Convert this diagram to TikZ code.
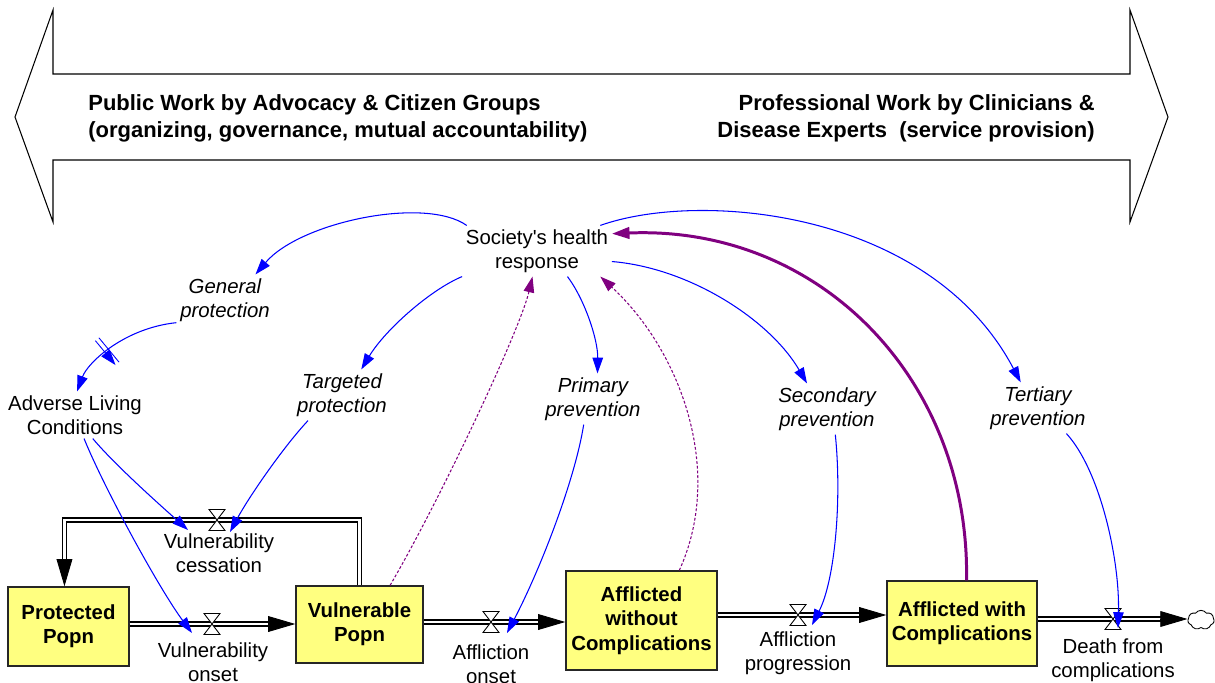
\documentclass[tikz,border=0pt]{standalone}
\usepackage{fontspec}
\setmainfont{Liberation Sans}
\usetikzlibrary{arrows.meta,calc,shapes.symbols,decorations.markings}
\definecolor{stockfill}{RGB}{255,255,128}
\definecolor{fbpurple}{RGB}{128,0,128}

\tikzset{
	valve/.pic={\draw[fill=white, line width=0.5pt] (-8,-10.5) -- (8,-10.5) -- (-8,10.5) -- (8,10.5) -- cycle;},
	delaymark/.style={postaction={decorate, decoration={markings,
		mark=at position #1 with {\draw[blue, line width=0.5pt] (-1.3pt,-9pt) -- (-1.3pt,9pt) (1.3pt,-9pt) -- (1.3pt,9pt);}}}}
}

\begin{document}
\begin{tikzpicture}[x=0.02cm, y=-0.02cm,
	every node/.style={font=\fontsize{11.6}{13.9}\selectfont, align=center, inner sep=2pt},
	stock/.style={draw=black!85, line width=0.8pt, fill=stockfill,
		font=\fontsize{11.6}{13.9}\selectfont\bfseries},
	aux/.style={font=\fontsize{11.6}{13.9}\selectfont\itshape},
	title/.style={font=\fontsize{12.5}{15.3}\selectfont\bfseries, inner sep=0pt},
	pipe/.style={draw=black, line width=0.75pt, double=white, double distance=1.7pt,
		shorten >=15pt},
	pipehead/.style={draw=black, line width=0.5pt, -{Triangle[length=15.5pt,width=9pt]}},
	link/.style={draw=blue, line width=0.6pt, -{Triangle[length=9pt,width=6pt]}},
	fb/.style={draw=fbpurple, line width=0.6pt, dash pattern=on 1.6pt off 1.1pt,
		-{Triangle[length=9pt,width=6pt]}},
	fbthick/.style={draw=fbpurple, line width=1.7pt, -{Triangle[length=10pt,width=6.5pt]}}]

	\useasboundingbox (0,0) rectangle (1215,683);

	% the two kinds of work
	\draw[line width=0.6pt] (15,117) -- (53,10) -- (53,74) -- (1130,74) -- (1130,10) -- (1168,117)
		-- (1130,222) -- (1130,160) -- (53,160) -- (53,222) -- cycle;
	\node [title, anchor=west, align=left] (public) at (88,118.5)
		{Public Work by Advocacy \& Citizen Groups\\(organizing, governance, mutual accountability)};
	\node [title, anchor=east, align=right] (profwork) at (1095,118.5)
		{Professional Work by Clinicians \&\\Disease Experts\ \ (service provision)};

	% stocks
	\node [stock, minimum width=2.42cm, minimum height=1.58cm] (prot) at (68.5,626.5) {Protected\\Popn};
	\node [stock, minimum width=2.54cm, minimum height=1.54cm] (vul) at (359.5,624.5) {Vulnerable\\Popn};
	\node [stock, minimum width=3.02cm, minimum height=1.98cm] (afw) at (641.5,620.5) {Afflicted\\without\\Complications};
	\node [stock, minimum width=3.0cm, minimum height=1.7cm] (afc) at (962,623.5) {Afflicted with\\Complications};
	\node [cloud, draw, cloud puffs=7, cloud puff arc=110, minimum width=15pt, minimum height=11pt,
		inner sep=0pt, line width=0.5pt] (sink) at (1201,620) {};

	% valves
	\coordinate (vcs) at (217,520);
	\coordinate (von) at (212,624);
	\coordinate (aon) at (491,622);
	\coordinate (apr) at (798,615);
	\coordinate (dth) at (1113,619);

	% flows
	\draw[pipe] (vul.north) |- (vcs) -| ([xshift=-2.3pt]prot.north);
	\draw[pipe] (prot.east |- von) -- (vul.west |- von);
	\draw[pipe] (vul.east |- aon) -- (afw.west |- aon);
	\draw[pipe] (afw.east |- apr) -- (afc.west |- apr);
	\draw[pipe] (afc.east |- dth) -- (sink.west |- dth);
	\draw[pipehead] ([shift={(0,15.5pt)}]prot.north) ++(-2.3pt,0) -- ([xshift=-2.3pt]prot.north);
	\draw[pipehead] ([xshift=-15.5pt]vul.west |- von) -- (vul.west |- von);
	\draw[pipehead] ([xshift=-15.5pt]afw.west |- aon) -- (afw.west |- aon);
	\draw[pipehead] ([xshift=-15.5pt]afc.west |- apr) -- (afc.west |- apr);
	\draw[pipehead] ([xshift=-15.5pt]sink.west |- dth) -- (sink.west |- dth);
	\foreach \v in {vcs,von,aon,apr,dth}
		\pic at (\v) {valve};

	\node (vcslbl) at (219,553) {Vulnerability\\cessation};
	\node (vonlbl) at (213,662) {Vulnerability\\onset};
	\node (aonlbl) at (491,664) {Affliction\\onset};
	\node (aprlbl) at (798,653) {Affliction\\progression};
	\node (dthlbl) at (1113,660) {Death from\\complications};

	% auxiliaries
	\node (soc) at (537,251) {Society\textquotesingle s health\\response};
	\node [aux] (gen) at (225,300) {General\\protection};
	\node [aux] (tgt) at (342,395) {Targeted\\protection};
	\node [aux] (pri) at (593,399) {Primary\\prevention};
	\node [aux] (sec) at (827,409) {Secondary\\prevention};
	\node [aux] (ter) at (1038,408) {Tertiary\\prevention};
	\node (adv) at (75,415) {Adverse Living\\Conditions};

	% responses
	\draw[link] (soc.160) .. controls (425,196) and (300,222) .. (gen.40);
	\draw[link] (soc.south west) .. controls (430,290) and (385,330) .. (tgt.53);
	\draw[link] (soc.-40) .. controls (585,300) and (598,340) .. (pri.80);
	\draw[link] (soc.-8) .. controls (690,268) and (770,320) .. (sec.128);
	\draw[link] (soc.22) .. controls (700,190) and (930,210) .. (ter.124);
	\draw[link, delaymark=0.6] (gen.205) .. controls (125,328) and (88,362) .. (adv.85);

	% effects on the flows
	\draw[link] (adv.-53) .. controls (115,465) and (160,505) .. ($(vcs)+(-29,10)$);
	\draw[link] (adv.-69) .. controls (105,490) and (160,590) .. ($(von)+(-20,9)$);
	\draw[link] (tgt.-143) .. controls (285,445) and (250,495) .. ($(vcs)+(13,12)$);
	\draw[link] (pri.-110) .. controls (575,480) and (540,570) .. ($(aon)+(16,11)$);
	\draw[link] (sec.-72) .. controls (842,500) and (835,580) .. ($(apr)+(14,10)$);
	\draw[link] (ter.-42) .. controls (1100,470) and (1120,560) .. ($(dth)+(5,9)$);

	% feedback to society
	\draw[fb] (vul.52) .. controls (440,500) and (520,330) .. (soc.-100);
	\draw[fb] (afw.53) .. controls (725,470) and (680,350) .. (soc.-22);
	\draw[fbthick] (afc.84) .. controls (970,380) and (820,225) .. (soc.13);

\end{tikzpicture}
\end{document}
